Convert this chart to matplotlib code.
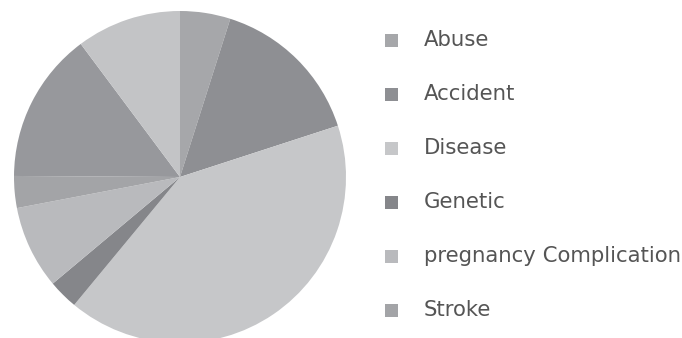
import matplotlib
matplotlib.use('Agg')
import matplotlib.pyplot as plt
from matplotlib.patches import Rectangle

# causes, clockwise from 12 o'clock (last two slices have no legend row)
causes = ['Abuse', 'Accident', 'Disease', 'Genetic',
          'pregnancy Complication', 'Stroke', 'Other', 'Unknown']
shares = [4.9, 15.1, 41.0, 2.9, 8.1, 3.1, 14.7, 10.2]
greys = ['#a6a7aa', '#8e8f93', '#c6c7c9', '#85868a',
         '#b9babd', '#a3a4a7', '#97989c', '#c3c4c6']
n_legend = 6

W, H = 682, 338
fig = plt.figure(figsize=(W / 100, H / 100), dpi=100)

# pie centred at (180, 177) px, radius 166 px
cx, cy, r = 180, 177, 166
ax = fig.add_axes([(cx - r) / W, (H - cy - r) / H, 2 * r / W, 2 * r / H])
wedges, _ = ax.pie(shares, colors=greys, startangle=90, counterclock=False,
                   radius=1, wedgeprops=dict(linewidth=0))
ax.set_xlim(-1, 1)
ax.set_ylim(-1, 1)
ax.axis('off')

# legend rows drawn by hand
row0, step = 40.5, 54
box = 13
for i in range(n_legend):
    yc = row0 + i * step
    fig.add_artist(Rectangle((385 / W, (H - yc - box / 2) / H), box / W, box / H,
                             transform=fig.transFigure,
                             facecolor=wedges[i].get_facecolor(), edgecolor='none'))
    fig.text(424 / W, (H - yc) / H, causes[i], fontsize=15.3, color='#555555',
             va='center', ha='left', family='DejaVu Sans')

fig.savefig('out.png', dpi=100)
